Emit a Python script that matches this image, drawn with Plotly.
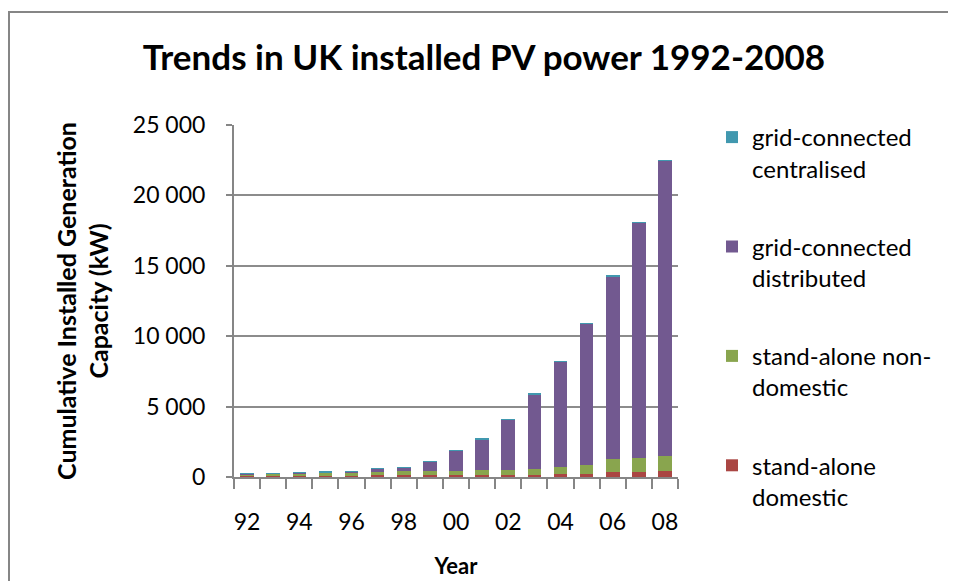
import plotly.graph_objects as go

years = list(range(1992, 2009))
tick_years = [1992, 1994, 1996, 1998, 2000, 2002, 2004, 2006, 2008]
tick_labels = ["92", "94", "96", "98", "00", "02", "04", "06", "08"]

stand_alone_domestic = [60, 70, 80, 90, 100, 110, 120, 130, 140, 150, 160, 170, 180, 200, 330, 380, 420]
stand_alone_non_domestic = [150, 170, 190, 210, 230, 250, 280, 300, 320, 340, 360, 420, 520, 620, 950, 1000, 1100]
grid_distributed = [20, 20, 30, 50, 70, 220, 280, 640, 1410, 2180, 3550, 5280, 7470, 10050, 12990, 16690, 20950]
grid_centralised = [20, 20, 20, 20, 20, 20, 20, 30, 30, 30, 30, 30, 30, 30, 30, 30, 30]

series = [
    ("stand-alone<br>domestic", stand_alone_domestic, "#AA4643"),
    ("stand-alone non-<br>domestic", stand_alone_non_domestic, "#89A54E"),
    ("grid-connected<br>distributed", grid_distributed, "#725990"),
    ("grid-connected<br>centralised", grid_centralised, "#4198AF"),
]

FONT = "Lato"
# the page body margin shifts the figure by 8px; size and positions compensate
W, H = 948, 573
L, R, T, B = 226, W - 670, 117, H - 469
PW = W - L - R
PH = H - T - B

fig = go.Figure()
for i, (name, vals, col) in enumerate(series):
    fig.add_trace(go.Bar(
        x=years, y=vals, name=name, legendgroup=f"g{i}",
        legendrank=len(series) - i,
        marker=dict(color=col, line=dict(width=0)), width=0.52,
    ))

fig.update_layout(
    width=W, height=H,
    barmode="stack",
    separators=". ",
    paper_bgcolor="white", plot_bgcolor="white",
    margin=dict(l=L, r=R, t=T, b=B, autoexpand=False),
    font=dict(family=FONT, size=20, color="black"),
    title=dict(text="<b>Trends in UK installed PV power 1992-2008</b>",
               x=476 / W, xref="container", xanchor="center",
               y=1 - 50 / H, yref="container", yanchor="middle",
               font=dict(family=FONT, size=35, color="black")),
    showlegend=True,
    legend=dict(x=(704 - L) / PW, xanchor="left", y=(469 - 107) / PH, yanchor="top",
                traceorder="grouped", tracegroupgap=44, maxheight=540,
                valign="top", font=dict(family=FONT, size=24, color="black"),
                bgcolor="rgba(0,0,0,0)"),
    shapes=[dict(type="rect", xref="paper", yref="paper",
                 x0=(1 - L) / PW, x1=2.5, y0=-0.5, y1=(469 - 4) / PH,
                 line=dict(color="#868686", width=2), fillcolor="rgba(0,0,0,0)",
                 layer="below")],
)

fig.update_xaxes(
    range=[1991.5, 2008.5],
    tickmode="array", tickvals=tick_years, ticktext=tick_labels,
    ticks="", showline=True, linecolor="#868686", linewidth=2,
    showgrid=False, zeroline=False,
    ticklabelstandoff=23,
    tickfont=dict(family=FONT, size=23, color="black"),
    minor=dict(tick0=1991.5, dtick=1, ticks="outside", ticklen=10,
               tickcolor="#868686", tickwidth=2, showgrid=False),
    title=dict(text="<b>Year</b>", font=dict(family=FONT, size=22, color="black"), standoff=25),
)
fig.update_yaxes(
    range=[0, 25000], tickmode="linear", tick0=0, dtick=5000,
    tickformat=",d",
    ticks="outside", ticklen=6, tickcolor="#868686", tickwidth=2,
    showline=True, linecolor="#868686", linewidth=2,
    showgrid=True, gridcolor="#8c8c8c", gridwidth=2, zeroline=False,
    ticklabelstandoff=16,
    tickfont=dict(family=FONT, size=23, color="black"),
    title=dict(text="<b>Cumulative Installed Generation<br>Capacity (kW)</b>",
               font=dict(family=FONT, size=25, color="black"), standoff=17),
)

fig.write_html("out.html")
